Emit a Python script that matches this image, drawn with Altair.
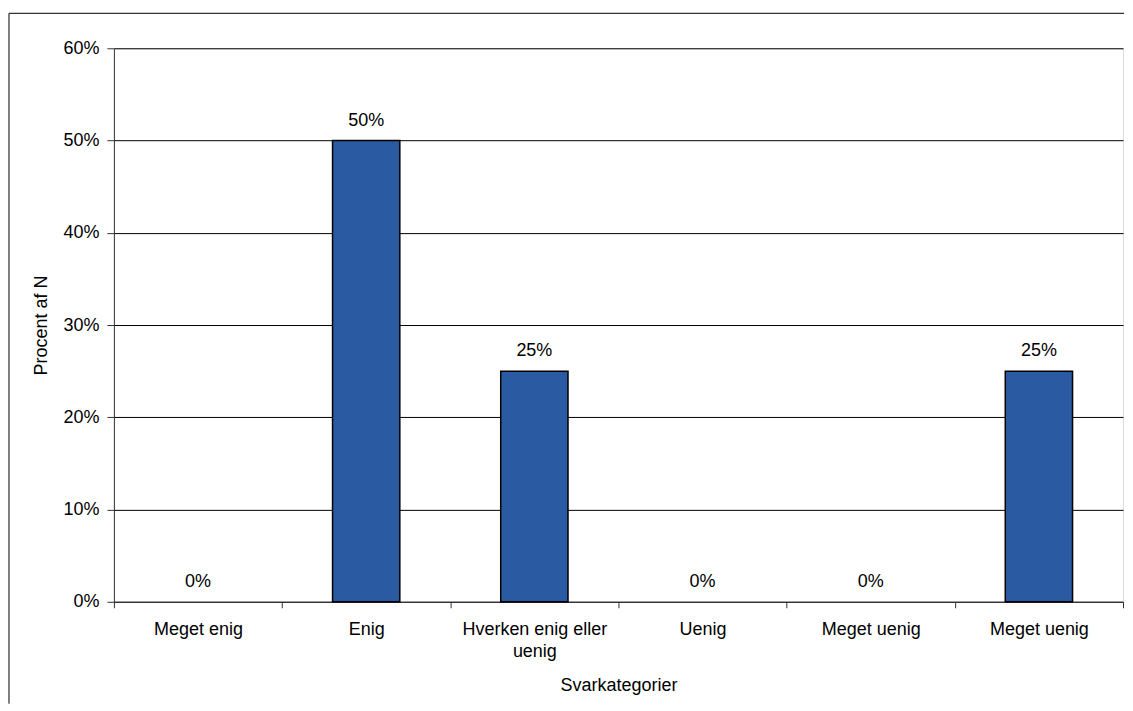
import json
import altair as alt
import pandas as pd

categories = ["Meget enig", "Enig", "Hverken enig eller\nuenig", "Uenig", "Meget uenig", "Meget uenig"]
values = [0.0, 0.50, 0.25, 0.0, 0.0, 0.25]
y_ticks = [0, 0.1, 0.2, 0.3, 0.4, 0.5, 0.6]

df = pd.DataFrame({"idx": list(range(len(categories))), "val": values})

W, H = 1010, 554
FONT = "Liberation Sans"
label_arr = json.dumps([c.split("\n") for c in categories])

x_enc = alt.X(
    "idx:O",
    title="Svarkategorier",
    scale=alt.Scale(paddingInner=0, paddingOuter=0),
    axis=alt.Axis(
        labelExpr=f"{label_arr}[datum.value]",
        labelAngle=0,
        tickBand="extent",
        tickSize=6,
        tickColor="#333333",
        domainColor="#333333",
        labelFontSize=18,
        labelFont=FONT,
        labelColor="black",
        labelPadding=13,
        labelLineHeight=22,
        titleFontSize=18,
        titleFont=FONT,
        titleFontWeight="normal",
        titleColor="black",
        titlePadding=16,
        grid=False,
    ),
)
y_enc = alt.Y(
    "val:Q",
    title="Procent af N",
    scale=alt.Scale(domain=[0, 0.6], nice=False),
    axis=alt.Axis(
        values=y_ticks,
        format=".0%",
        tickSize=7,
        tickColor="#333333",
        domainColor="#333333",
        grid=True,
        gridColor="black",
        gridWidth=1,
        labelFontSize=18,
        labelFont=FONT,
        labelColor="black",
        labelPadding=8,
        titleFontSize=18,
        titleFont=FONT,
        titleFontWeight="normal",
        titleColor="black",
        titlePadding=12,
    ),
)

base = alt.Chart(df)
bars = base.mark_bar(
    color="#2A5AA2", stroke="black", strokeWidth=1.5, width=alt.RelativeBandSize(0.4)
).encode(x=x_enc, y=y_enc).transform_filter("datum.val > 0")
texts = base.mark_text(
    baseline="bottom", dy=-11, fontSize=18, font=FONT, color="black"
).encode(x=x_enc, y=y_enc, text=alt.Text("val:Q", format=".0%"))

frame_top = alt.Chart(df.head(1)).mark_rule(color="black", strokeWidth=1).encode(
    x=alt.value(-105), x2=alt.value(1011), y=alt.value(-35)
)
frame_left = alt.Chart(df.head(1)).mark_rule(color="black", strokeWidth=1).encode(
    x=alt.value(-105), y=alt.value(-35), y2=alt.value(656)
)

chart = (
    alt.layer(bars, texts, frame_top, frame_left)
    .properties(width=W, height=H, padding={"left": 0, "top": 4, "right": 0, "bottom": 0})
    .configure_view(stroke=None)
    .configure(background="white")
)

chart.save("out.html", embed_options={"renderer": "svg", "actions": False})
